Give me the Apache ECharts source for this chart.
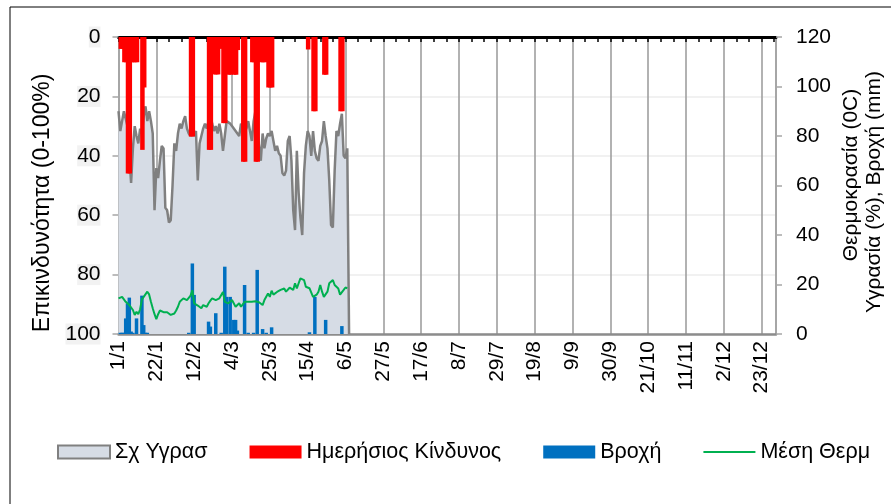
<!DOCTYPE html>
<html>
<head>
<meta charset="utf-8">
<script src="https://cdn.jsdelivr.net/npm/echarts@6/dist/echarts.min.js"></script>
<style>html,body{margin:0;padding:0;background:#fff}#c{width:891px;height:504px}</style>
</head>
<body>
<div id="c"></div>
<script>
// Categories: days of a leap year (1/1 .. 31/12)
const monthLengths = [31,29,31,30,31,30,31,31,30,31,30,31];
const days = [];
monthLengths.forEach((n, m) => { for (let d = 1; d <= n; d++) days.push(d + '/' + (m + 1)); });

// Σχ Υγρασ (right axis, %), days 1/1 .. 7/5, then drop to 0
const humidity = [
 90,82,86,90,87,84,72,61,75,84, 80,77,83,81,88,92,86,90,86,81,
 50,67,63,70,76,75,51,50,45,46, 60,77,74,81,85,83,86,88,83,81,
 80,82,80,82,62,77,80,83,85,83, 86,89,85,82,84,81,85,81,74,80,
 86,86,85,84,83,82,81,80,85,84, 82,83,86,82,78,86,90,82,76,70,
 81,75,79,81,80,82,78,74,76,73, 72,65,64,66,78,80,70,50,42,74,
 57,47,40,65,76,82,80,72,82,74, 71,70,76,78,86,80,75,62,44,43,
 66,82,80,85,89,72,71,75,0
];

// Ημερήσιος Κίνδυνος (left axis, inverted, 0-100)
const risk = [
 0,4,4,8.5,8.5,46,46,8.5,8.5,8.5, 8.5,0,0,38,17,0,0,0,0,0,
 0,0,0,0,0,0,0,0,0,0, 0,0,0,0,0,0,0,0,0,0,
 33.5,33.5,0,0,0,0,0,0,0,0, 38,38,0,12.6,12.6,12.6,0,4,29,29,
 0,12.7,12.7,4.4,12.7,12.7,4.4,0,0,42, 42,0,0,0,8.5,8.5,42,42,0,8.5,
 8.5,8.5,0,17,17,17,0,0,0,0, 0,0,0,0,0,0,0,0,0,0,
 0,0,0,0,0,4.2,0,0,25,25, 0,0,0,0,12.7,12.7,0,0,0,0,
 0,0,0,25,25,0,0,0
];

// Βροχή (right axis, mm)
const rain = [
 0,0.5,0.5,0.5,6.3,12.4,14.7,1,0.5,0, 6.3,0,0,15.5,3.6,0.5,0.5,0,0,0,
 0,0,0,0,0,0,0,0,0,0, 0,0,0,0,0,0,0,0,0,0.5,
 0,28.5,15.8,0,0,0,0,0,0,0, 5,3,0,0,8.4,0,0,0.5,0,27.2,
 15,0,15,0,5.7,5.7,1.4,0,0,0, 19.8,0,0.5,0,0,0.5,0,25.9,0,0,
 2,0,0.5,0,0,2.7,0,0,0,0, 0,0,0,0,0,0,0,0,0,0,
 0,0,0,0,0,0,0.7,0,0,15, 0,0,0,0,0,5.7,0,0,0,0,
 0,0,0,0,3.2,0,0,0
];

// Μέση Θερμ (right axis, °C)
const temperature = [
 14.4,15.2,15,14,13,12.4,11.7,11,9.7,7.7, 9,8,10,14,15,14.7,17.1,16,13,10.4,
 8,6,8,9.5,9.7,8.8,9.3,8.8,8.3,7.7, 7,8.3,9.5,11,13,13.5,14.4,14,13.7,14.4,
 15.5,17.7,12.4,11.7,11.5,11.3,10.4,11.7,11.3,11, 12.4,13.5,14.4,14.4,13.7,14,14.4,15,17,13,
 12.8,12.4,13,13.7,13.5,11,11.7,12.4,11,12, 13,12.4,13,13.3,13,13,13.2,13.3,12.8,12.4,
 11.7,13.7,14.4,16.4,15,17.5,15.9,16.5,17,16.4, 17.8,18.1,18.4,17.1,17.8,18.7,18.2,17.8,20.5,18.4,
 20.5,22.5,23.2,21.8,19.1,19.1,18.5,17.8,15,15.5, 15.9,17.1,19.8,17.1,15,15.8,17.1,20.5,21,21.8,
 19.8,19,18.4,15.9,16.5,17.8,18.8,18.4
];

const leftTicks = { min: 0, max: 100, interval: 20 };
const rightTicks = { min: 0, max: 120, interval: 20 };

const FONT = 'Liberation Sans, Arial, sans-serif';
const TICK_FS = 21;
const chart = echarts.init(document.getElementById('c'), null, { renderer: 'canvas' });
chart.setOption({
  animation: false,
  backgroundColor: '#fff',
  textStyle: { fontFamily: FONT },
  grid: { left: 118.5, right: 115, top: 37, bottom: 170, containLabel: false },
  xAxis: [
    {
      type: 'category', data: days, position: 'bottom', boundaryGap: false,
      axisLine: { show: true, onZero: false, lineStyle: { color: '#8c8c8c', width: 2.5 } },
      axisTick: { show: false },
      axisLabel: { interval: 20, rotate: 90, margin: 7, fontSize: TICK_FS, color: '#000', fontFamily: FONT },
      splitLine: { show: true, interval: 20, lineStyle: { color: '#999999', width: 1.5 } }
    },
    {
      type: 'category', data: days, position: 'top', boundaryGap: false,
      axisLine: { show: true, onZero: false, lineStyle: { color: '#000', width: 3 } },
      axisTick: { show: true, interval: 6, inside: true, length: 5, lineStyle: { color: '#000', width: 1.5 } },
      axisLabel: { show: false },
      splitLine: { show: false }
    }
  ],
  yAxis: [
    {
      type: 'value', inverse: true, min: leftTicks.min, max: leftTicks.max, interval: leftTicks.interval,
      position: 'left',
      axisLine: { show: true, onZero: false, lineStyle: { color: '#a6a6a6', width: 2 } },
      axisTick: { show: true, length: 6, lineStyle: { color: '#a6a6a6', width: 1.5 } },
      axisLabel: { fontSize: TICK_FS, color: '#000', margin: 18, backgroundColor: '#f2f2f2', fontFamily: FONT },
      splitLine: { show: true, lineStyle: { color: '#ececec', width: 1.5 } }
    },
    {
      type: 'value', min: rightTicks.min, max: rightTicks.max, interval: rightTicks.interval,
      position: 'right',
      axisLine: { show: true, onZero: false, lineStyle: { color: '#a6a6a6', width: 2 } },
      axisTick: { show: true, length: 6, lineStyle: { color: '#a6a6a6', width: 1.5 } },
      axisLabel: { fontSize: TICK_FS, color: '#000', margin: 20, fontFamily: FONT },
      splitLine: { show: false }
    }
  ],
  legend: {
    left: 52, top: 436, itemWidth: 52, itemHeight: 13, itemGap: 42,
    textStyle: { fontSize: 21.5, color: '#000', fontFamily: FONT },
    selectedMode: false,
    data: [
      { name: 'Σχ Υγρασ', icon: 'rect', itemStyle: { color: '#d6dce5', borderColor: '#808080', borderWidth: 2 } },
      { name: 'Ημερήσιος Κίνδυνος', icon: 'rect', itemStyle: { color: '#ff0000' } },
      { name: 'Βροχή', icon: 'rect', itemStyle: { color: '#0070c0' } },
      { name: 'Μέση Θερμ', icon: 'path://M0,0 L100,0 L100,4 L0,4 Z', itemStyle: { color: '#00b050' } }
    ]
  },
  series: [
    {
      name: 'Σχ Υγρασ', type: 'line', xAxisIndex: 0, yAxisIndex: 1, data: humidity,
      symbol: 'none', z: 1,
      lineStyle: { color: '#808080', width: 2.5 },
      itemStyle: { color: '#808080' },
      areaStyle: { color: '#d6dce5', opacity: 1 }
    },
    {
      name: 'Ημερήσιος Κίνδυνος', type: 'bar', xAxisIndex: 0, yAxisIndex: 0, data: risk,
      barWidth: 4.5, barGap: '-100%', z: 3,
      itemStyle: { color: '#ff0000' }
    },
    {
      name: 'Βροχή', type: 'bar', xAxisIndex: 0, yAxisIndex: 1, data: rain,
      barWidth: 3.5, barGap: '-100%', z: 3,
      itemStyle: { color: '#0070c0' }
    },
    {
      name: 'Μέση Θερμ', type: 'line', xAxisIndex: 0, yAxisIndex: 1, data: temperature,
      symbol: 'none', z: 4,
      lineStyle: { color: '#00b050', width: 2 },
      itemStyle: { color: '#00b050' }
    }
  ],
  graphic: [
    { type: 'rect', shape: { x: 10, y: 7, width: 900, height: 520 }, style: { fill: 'none', stroke: '#000', lineWidth: 1 }, silent: true, z: -1 },
    { type: 'text', x: 43, y: 203, rotation: Math.PI / 2,
      style: { text: 'Επικινδυνότητα (0-100%)', font: '23px ' + FONT, fill: '#000', align: 'center', verticalAlign: 'middle' } },
    { type: 'text', x: 851, y: 175, rotation: Math.PI / 2,
      style: { text: 'Θερμοκρασία (0C)', font: '21px ' + FONT, fill: '#000', align: 'center', verticalAlign: 'middle' } },
    { type: 'text', x: 874, y: 192, rotation: Math.PI / 2,
      style: { text: 'Υγρασία (%), Βροχή (mm)', font: '21px ' + FONT, fill: '#000', align: 'center', verticalAlign: 'middle' } }
  ]
});
</script>
</body>
</html>
